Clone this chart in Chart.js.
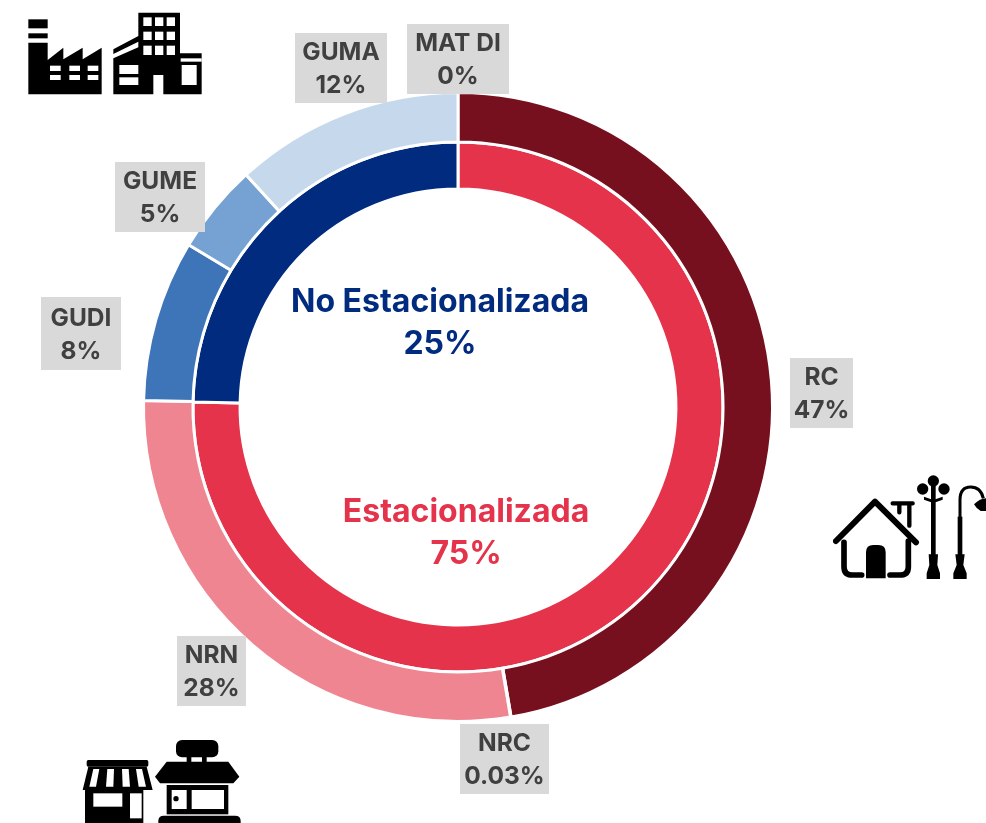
<!DOCTYPE html>
<html>
<head>
<meta charset="utf-8">
<title>Estacionalizada</title>
<script src="https://cdn.jsdelivr.net/npm/chart.js@4"></script>
<style>
    html, body { margin: 0; padding: 0; background: #fff; overflow: hidden; }
    #wrap { position: relative; width: 986px; height: 823px; }
    canvas { position: absolute; left: 0; top: 0; }
    svg { position: absolute; filter: blur(0.7px); }
</style>
</head>
<body>
<div id="wrap">
    <canvas id="myChart" width="986" height="823"></canvas>

    <!-- factory + building, drawn in 3x units -->
    <svg style="left:0;top:0" width="220" height="110" viewBox="0 0 660 330">
        <rect x="85" y="58" width="58" height="27"/>
        <rect x="85" y="100" width="58" height="15"/>
        <path d="M85 128H143V180L190 143V178L248 143V178L305 143V283H85Z"/>
        <g fill="#fff">
            <rect x="150" y="197" width="32" height="16"/><rect x="208" y="197" width="32" height="16"/><rect x="263" y="197" width="32" height="16"/>
            <rect x="150" y="225" width="32" height="15"/><rect x="208" y="225" width="32" height="15"/><rect x="263" y="225" width="32" height="15"/>
        </g>
        <path d="M415 38H540V160H605V283H490V225H460V283H340V175L415 142V125L340 162V148L415 108Z"/>
        <g fill="#fff">
            <rect x="430" y="52" width="25" height="26"/><rect x="465" y="52" width="25" height="26"/><rect x="500" y="52" width="25" height="26"/>
            <rect x="430" y="95" width="25" height="25"/><rect x="465" y="95" width="25" height="25"/><rect x="500" y="95" width="25" height="25"/>
            <rect x="430" y="137" width="25" height="28"/><rect x="465" y="137" width="25" height="28"/><rect x="500" y="137" width="25" height="28"/>
            <rect x="358" y="195" width="57" height="27"/><rect x="358" y="232" width="57" height="23"/>
            <rect x="542" y="175" width="63" height="10"/><rect x="545" y="195" width="45" height="60"/>
        </g>
    </svg>

    <!-- house + street lamps -->
    <svg style="left:820px;top:465px" width="166" height="125" viewBox="0 0 498 375">
        <g fill="none" stroke="#000" stroke-linecap="round" stroke-linejoin="round">
            <path d="M48 228L165 110L288 232" stroke-width="18"/>
            <path d="M72 232V305Q72 330 97 330H125M265 228V305Q265 330 240 330H210" stroke-width="17"/>
            <path d="M218 115H278M268 118V182M238 118V142" stroke-width="13"/>
        </g>
        <path d="M138 340V262Q138 240 160 240H175Q197 240 197 262V340Z"/>
        <circle cx="340" cy="48" r="17"/><circle cx="308" cy="72" r="17"/><circle cx="372" cy="72" r="17"/>
        <rect x="333" y="60" width="14" height="220"/>
        <path d="M312 95L340 105L368 95V104L340 114L312 104Z"/>
        <path d="M320 342V325L328 300L326 268H354L352 300L360 325V342Z"/>
        <path d="M420 290V105Q420 66 452 66Q482 66 490 100" fill="none" stroke="#000" stroke-width="9"/>
        <rect x="413" y="155" width="14" height="115"/>
        <path d="M462 118Q480 100 498 100V138H482Q468 130 462 118Z"/>
        <path d="M400 342V325L410 300L406 268H434L430 300L440 325V342Z"/>
    </svg>

    <!-- two shop fronts -->
    <svg style="left:70px;top:725px" width="190" height="98" viewBox="0 0 570 294">
        <rect x="50" y="105" width="185" height="20" rx="5"/>
        <path d="M55 125H230L248 195H38Z"/>
        <g fill="#fff">
            <path d="M70 132H88L78 185H58Z"/><path d="M112 132H132L130 185H108Z"/>
            <path d="M156 132H176L180 185H158Z"/><path d="M198 132H216L228 185H206Z"/>
        </g>
        <rect x="45" y="195" width="175" height="99"/>
        <rect x="70" y="205" width="87" height="40" fill="#fff"/>
        <rect x="180" y="205" width="35" height="75" fill="#fff"/>
        <rect x="318" y="45" width="127" height="52" rx="18"/>
        <rect x="350" y="95" width="14" height="20"/><rect x="396" y="95" width="14" height="20"/>
        <path d="M290 110H475L508 155L490 175H270L255 155Z"/>
        <rect x="290" y="180" width="185" height="88"/>
        <rect x="305" y="195" width="45" height="57" fill="#fff"/>
        <circle cx="318" cy="221" r="8"/>
        <rect x="365" y="195" width="97" height="57" fill="#fff"/>
        <path d="M265 294V288Q265 272 282 272H495Q512 272 512 288V294Z"/>
    </svg>
</div>

<script>
const categories = ['RC', 'NRC', 'NRN', 'GUDI', 'GUME', 'GUMA', 'MAT DI'];
const sectorValues = [47.3, 0.03, 28.0, 8.3, 4.6, 11.77, 0];
const sectorLabels = ['47%', '0.03%', '28%', '8%', '5%', '12%', '0%'];
const sectorColors = ['#76101F', '#76101F', '#F08592', '#3E75B8', '#75A1D3', '#C5D8EC', '#C5D8EC'];

const groups = ['Estacionalizada', 'No Estacionalizada'];
const groupValues = [75.3, 24.7];
const groupLabels = ['75%', '25%'];
const groupColors = ['#E4334A', '#002B7F'];

// hand placed boxes, same order as categories: left, top, width, height
const boxes = [
    [790, 358, 63, 70],
    [460, 724, 89, 70],
    [177, 636, 69, 70],
    [41, 297, 80, 73],
    [115, 162, 90, 70],
    [295, 33, 92, 70],
    [407, 24, 102, 70]
];
const groupCenters = [[466, 512], [440, 302]];

const labelsPlugin = {
    id: 'labelsPlugin',
    afterDraw(chart) {
        const c = chart.ctx;
        c.save();
        c.textAlign = 'center';
        c.textBaseline = 'middle';

        c.font = '700 24.5px Inter';
        categories.forEach((name, i) => {
            let [x, y, w, h] = boxes[i];
            c.fillStyle = '#D9D9D9';
            c.fillRect(x, y, w, h);
            c.fillStyle = '#404040';
            c.fillText(name, x + w / 2, y + h / 2 - 15);
            c.fillText(sectorLabels[i], x + w / 2, y + h / 2 + 18);
        });

        c.font = '700 32px Inter';
        groups.forEach((name, i) => {
            let [x, y] = groupCenters[i];
            c.fillStyle = groupColors[i];
            c.fillText(name, x, y);
            c.fillText(groupLabels[i], x, y + 42);
        });
        c.restore();
    }
};

new Chart(document.querySelector('#myChart').getContext('2d'), {
    type: 'doughnut',
    data: {
        labels: categories,
        datasets: [
            { data: sectorValues, backgroundColor: sectorColors, weight: 1.05 },
            { data: groupValues, backgroundColor: groupColors, weight: 1 }
        ]
    },
    options: {
        responsive: false,
        animation: false,
        cutout: '69.3%',
        borderColor: '#fff',
        borderWidth: 3,
        layout: { padding: { left: 142, right: 212, top: 91, bottom: 100 } },
        plugins: { legend: { display: false }, tooltip: { enabled: false } }
    },
    plugins: [labelsPlugin]
});
</script>
</body>
</html>
